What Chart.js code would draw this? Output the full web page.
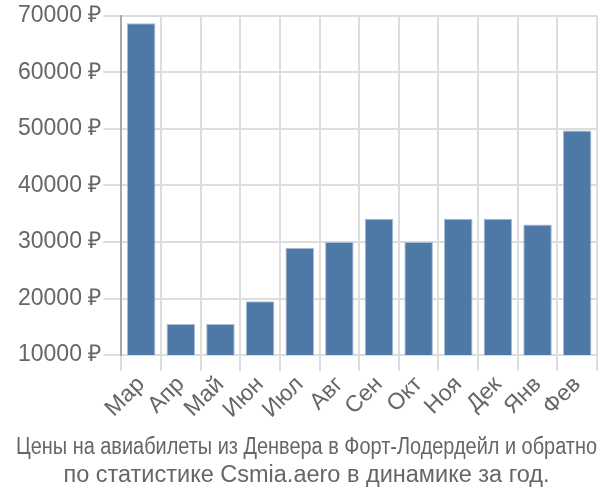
<!DOCTYPE html>
<html>
<head>
<meta charset="utf-8">
<script src="https://cdn.jsdelivr.net/npm/chart.js@4"></script>
<style>
  html, body { margin: 0; padding: 0; background: #fff; }
  #wrap { width: 600px; height: 500px; }
</style>
</head>
<body>
<div id="wrap"><canvas id="chart"></canvas></div>
<script>
const months = ['Мар', 'Апр', 'Май', 'Июн', 'Июл', 'Авг', 'Сен', 'Окт', 'Ноя', 'Дек', 'Янв', 'Фев'];
const prices = [68700, 15500, 15500, 19500, 29000, 30000, 34100, 30000, 34100, 34100, 33100, 49700];
const titleLines = [
  'Цены на авиабилеты из Денвера в Форт-Лодердейл и обратно',
  'по статистике Csmia.aero в динамике за год.'
];

Chart.defaults.font.family = '"Liberation Sans", Arial, sans-serif';
Chart.defaults.color = '#666';

new Chart(document.getElementById('chart'), {
  type: 'bar',
  data: {
    labels: months,
    datasets: [{
      data: prices,
      backgroundColor: '#4e79a7',
      borderColor: '#a9bdd3',
      borderWidth: 1,
    }],
  },
  options: {
    responsive: true,
    maintainAspectRatio: false,
    animation: false,
    layout: { padding: { top: 4, right: 3, left: 16 } },
    plugins: {
      legend: { display: false },
      tooltip: { enabled: false },
      title: {
        display: true,
        position: 'bottom',
        text: titleLines,
        font: { size: 23.5, weight: 'normal', lineHeight: 1.2 },
        color: '#666',
        padding: { top: 10, bottom: 10 },
      },
    },
    scales: {
      x: {
        grid: { color: '#ddd', lineWidth: 2, tickLength: 16 },
        border: { color: '#ddd', width: 2 },
        ticks: {
          font: { size: 23 },
          maxRotation: 45,
          minRotation: 45,
          autoSkip: false,
          padding: 0,
        },
      },
      y: {
        min: 10000,
        max: 70000,
        grid: { color: '#ddd', lineWidth: 2, tickLength: 18 },
        border: { color: '#aaa', width: 2 },
        ticks: {
          stepSize: 10000,
          font: { size: 23 },
          padding: 2,
          callback: (v) => v + ' ₽',
        },
      },
    },
  },
});
</script>
</body>
</html>
